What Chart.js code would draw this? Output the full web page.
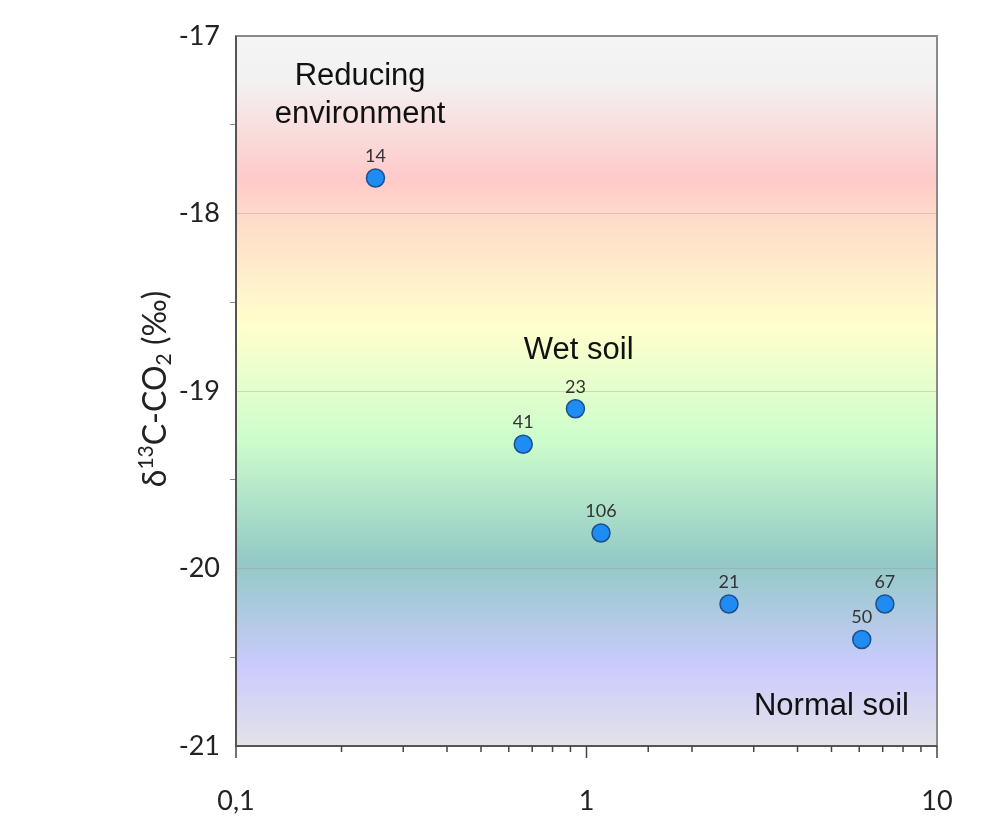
<!DOCTYPE html>
<html>
<head>
<meta charset="utf-8">
<title>d13C-CO2</title>
<script src="https://cdn.jsdelivr.net/npm/chart.js"></script>
<style>
  html, body { margin: 0; padding: 0; background: #fff; }
  #wrap { width: 997px; height: 819px; }
</style>
</head>
<body>
<div id="wrap"><canvas id="grafico" width="997" height="819"></canvas></div>
<script>
// datos
const sampleIds = ['14', '41', '23', '106', '21', '50', '67'];
const xValues = [0.25, 0.66, 0.93, 1.10, 2.55, 6.1, 7.1];
const d13cValues = [-17.8, -19.3, -19.1, -19.8, -20.2, -20.4, -20.2];
const xTickLabels = { '0.1': '0,1', '1': '1', '10': '10' };
const yTickLabels = ['-21', '-20', '-19', '-18', '-17'];
const zoneNames = ['Reducing', 'environment', 'Wet soil', 'Normal soil'];
const zoneX = [0.226, 0.226, 0.95, 5.0];
const zoneY = [-17.23, -17.44, -18.77, -20.78];

const points = xValues.map((x, i) => ({ x: x, y: d13cValues[i] }));

// fondo degradado del area
const fondo = {
  id: 'fondo',
  beforeDraw(chart) {
    const { ctx, chartArea: a } = chart;
    const g = ctx.createLinearGradient(0, a.top, 0, a.bottom);
    g.addColorStop(0, '#f4f4f4');
    g.addColorStop(0.06, '#f3f2f2');
    g.addColorStop(0.20, '#ffcaca');
    g.addColorStop(0.26, '#ffdcc9');
    g.addColorStop(0.41, '#ffffcc');
    g.addColorStop(0.57, '#ccfdcc');
    g.addColorStop(0.74, '#93c9c6');
    g.addColorStop(0.89, '#cbcbfd');
    g.addColorStop(1, '#e3e3e7');
    ctx.save();
    ctx.fillStyle = g;
    ctx.fillRect(a.left, a.top, a.right - a.left, a.bottom - a.top);
    ctx.restore();
  }
};

const extras = {
  id: 'extras',
  afterDraw(chart) {
    const { ctx, chartArea: a } = chart;
    const xs = chart.scales.x, ys = chart.scales.y;
    ctx.save();
    // borde
    ctx.strokeStyle = '#8a8a8a';
    ctx.lineWidth = 2;
    ctx.strokeRect(a.left, a.top, a.right - a.left, a.bottom - a.top);
    ctx.strokeStyle = '#555';
    ctx.beginPath();
    ctx.moveTo(a.left, a.top); ctx.lineTo(a.left, a.bottom); ctx.lineTo(a.right, a.bottom);
    ctx.stroke();

    // marcas del eje x
    ctx.lineWidth = 1.5;
    ctx.strokeStyle = '#444';
    xs.ticks.forEach(t => {
      const px = xs.getPixelForValue(t.value);
      const mayor = xTickLabels[String(t.value)] !== undefined;
      ctx.beginPath();
      ctx.moveTo(px, a.bottom);
      ctx.lineTo(px, a.bottom + (mayor ? 12 : 6));
      ctx.stroke();
    });

    // etiquetas de zonas
    ctx.fillStyle = '#111';
    ctx.font = '31px "Liberation Sans", Arial, sans-serif';
    ctx.textAlign = 'center';
    ctx.textBaseline = 'middle';
    zoneNames.forEach((n, i) => {
      ctx.fillText(n, xs.getPixelForValue(zoneX[i]), ys.getPixelForValue(zoneY[i]));
    });

    // titulo eje y
    ctx.translate(156, (a.top + a.bottom) / 2 - 2);
    ctx.rotate(-Math.PI / 2);
    const big = '32px Lato, sans-serif', small = '21px Lato, sans-serif';
    const parts = [['δ', big, 0], ['13', small, -10], ['C-CO', big, 0], ['2', small, 8], [' (‰)', big, 0]];
    let w = 0;
    parts.forEach(p => { ctx.font = p[1]; w += ctx.measureText(p[0]).width; });
    let x = -w / 2;
    ctx.textAlign = 'left';
    ctx.fillStyle = '#222';
    parts.forEach(p => {
      ctx.font = p[1];
      ctx.fillText(p[0], x, p[2]);
      x += ctx.measureText(p[0]).width;
    });
    ctx.restore();
  },
  afterDatasetsDraw(chart) {
    const { ctx } = chart;
    const meta = chart.getDatasetMeta(0);
    ctx.save();
    ctx.fillStyle = '#333';
    ctx.font = '18px Lato, sans-serif';
    ctx.textAlign = 'center';
    ctx.textBaseline = 'middle';
    meta.data.forEach((el, i) => {
      ctx.fillText(sampleIds[i], el.x, el.y - 22);
    });
    ctx.restore();
  }
};

const config = {
  type: 'scatter',
  data: {
    datasets: [{
      label: 'muestras',
      data: points,
      backgroundColor: '#1e8cf2',
      borderColor: '#1d4f8c',
      borderWidth: 1.5,
      pointRadius: 9,
      pointHoverRadius: 9
    }]
  },
  options: {
    responsive: false,
    animation: false,
    layout: { padding: { top: 36, right: 60, left: 0, bottom: 0 } },
    plugins: { legend: { display: false }, tooltip: { enabled: false } },
    scales: {
      x: {
        type: 'logarithmic',
        min: 0.1,
        max: 10,
        afterFit(s) { s.height = 73; },
        border: { display: false },
        grid: { drawOnChartArea: false, tickLength: 12, tickColor: 'rgba(0,0,0,0)' },
        ticks: {
          autoSkip: false,
          maxRotation: 0,
          padding: 27,
          color: '#222',
          font: { family: 'Lato', size: 27 },
          callback: v => xTickLabels[String(v)] !== undefined ? xTickLabels[String(v)] : ''
        }
      },
      y: {
        min: -21,
        max: -17,
        afterFit(s) { s.width = 236; },
        border: { display: false },
        grid: {
          tickLength: 6,
          color: ctx => {
            const v = ctx.tick ? ctx.tick.value : 0;
            return (Number.isInteger(v) && v > -21 && v < -17) ? 'rgba(150,150,150,0.35)' : 'rgba(0,0,0,0)';
          },
          tickColor: ctx => (ctx.tick && !Number.isInteger(ctx.tick.value)) ? '#888' : 'rgba(0,0,0,0)'
        },
        ticks: {
          stepSize: 0.5,
          padding: 10,
          color: '#222',
          font: { family: 'Lato', size: 27 },
          callback: v => yTickLabels.includes(String(v)) ? String(v) : ''
        }
      }
    }
  },
  plugins: [fondo, extras]
};

new Chart(document.getElementById('grafico').getContext('2d'), config);
</script>
</body>
</html>
